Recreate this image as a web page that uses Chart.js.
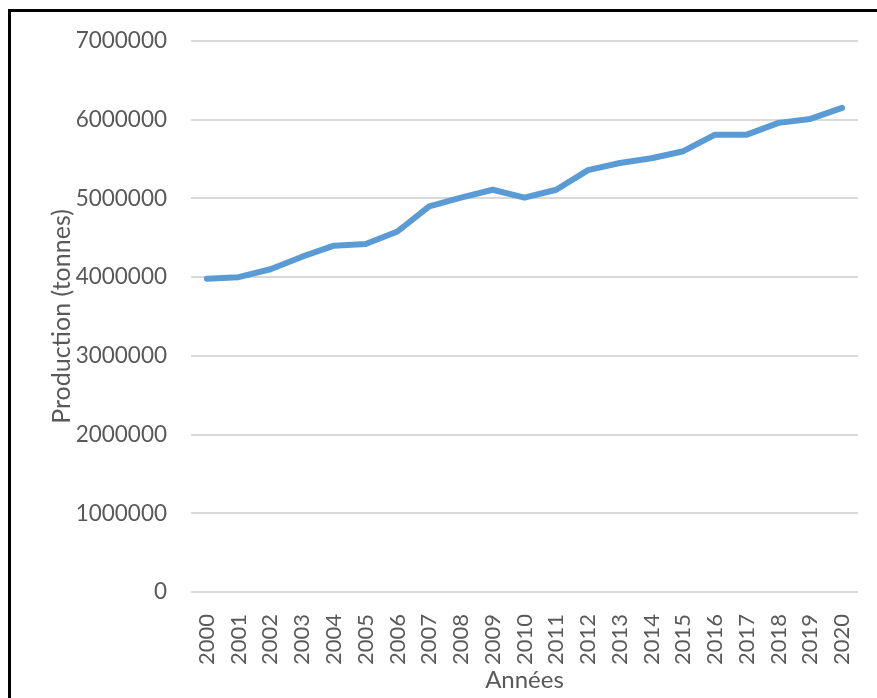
<!DOCTYPE html>
<html>
<head>
<meta charset="utf-8">
<script src="https://cdn.jsdelivr.net/npm/chart.js@4/dist/chart.umd.min.js"></script>
<style>
  html, body { margin: 0; padding: 0; background: #fff; overflow: hidden; }
  #frame {
    position: absolute; left: 8px; top: 9px; width: 900px; height: 720px;
    border-left: 3px solid #000; border-top: 3px solid #000;
  }
  #wrap { position: absolute; left: 0; top: 0; width: 877px; height: 698px; }
</style>
</head>
<body>
<div id="frame"></div>
<div id="wrap"><canvas id="prodChart"></canvas></div>
<script>
// years and production (tonnes)
const years = ['2000','2001','2002','2003','2004','2005','2006','2007','2008','2009','2010',
  '2011','2012','2013','2014','2015','2016','2017','2018','2019','2020'];
const production = [3980000, 4000000, 4100000, 4260000, 4400000, 4420000, 4580000, 4900000,
  5010000, 5110000, 5010000, 5110000, 5360000, 5450000, 5510000, 5600000, 5810000, 5810000,
  5960000, 6010000, 6150000];
const yTicks = [0, 1000000, 2000000, 3000000, 4000000, 5000000, 6000000, 7000000];

const txt = '#595959';
const fontFam = 'Lato, "Open Sans", sans-serif';

const ctx = document.getElementById('prodChart');

new Chart(ctx, {
  type: 'line',
  data: {
    labels: years,
    datasets: [{
      label: 'Production',
      data: production,
      borderColor: '#5B9BD5',
      borderWidth: 6,
      borderCapStyle: 'round',
      borderJoinStyle: 'round',
      pointRadius: 0,
      tension: 0,
      fill: false
    }]
  },
  options: {
    responsive: true,
    maintainAspectRatio: false,
    devicePixelRatio: 1,
    animation: false,
    layout: { padding: { left: 0, top: 41, right: 19, bottom: 0 } },
    plugins: { legend: { display: false }, tooltip: { enabled: false } },
    scales: {
      x: {
        offset: true,
        grid: { display: false },
        border: { display: false },
        ticks: {
          color: txt, font: { family: fontFam, size: 22 },
          minRotation: 90, maxRotation: 90, padding: 14, autoSkip: false
        },
        title: {
          display: true, text: 'Années', color: txt,
          font: { family: fontFam, size: 24 }, padding: { top: 0, bottom: 3 }
        },
        afterFit: (scale) => {
          scale.height = 106;
          // rotated year labels fit inside their slots, no extra side room needed
          scale.paddingLeft = 0;
          scale.paddingRight = 0;
        }
      },
      y: {
        min: 0,
        max: 7000000,
        afterBuildTicks: (scale) => { scale.ticks = yTicks.map(v => ({ value: v })); },
        grid: { color: '#d9d9d9', lineWidth: 2, drawTicks: false },
        border: { display: false },
        ticks: {
          color: txt, font: { family: fontFam, size: 22.5 }, padding: 24,
          callback: (v) => String(v)
        },
        title: {
          display: true, text: 'Production (tonnes)', color: txt,
          font: { family: fontFam, size: 25 }, padding: { top: 47, bottom: 0 }
        },
        afterFit: (scale) => { scale.width = 191; }
      }
    }
  }
});
</script>
</body>
</html>
